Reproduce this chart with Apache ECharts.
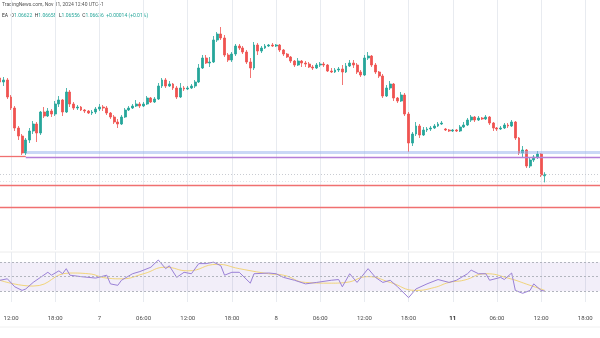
<!DOCTYPE html>
<html><head><meta charset="utf-8">
<script src="https://cdn.jsdelivr.net/npm/echarts@6/dist/echarts.min.js"></script>
<style>html,body{margin:0;padding:0;background:#fff}#c{width:600px;height:338px}</style>
</head><body><div id="c"></div>
<script>
// 30-minute EUR/USD candles: [open, close, low, high]
const ohlc = [
[1.0760,1.0756,1.0754,1.0764],[1.0756,1.0758,1.0752,1.0761],[1.0758,1.0741,1.0739,1.0760],[1.0741,1.0730,1.0728,1.0743],
[1.0730,1.0710,1.0707,1.0732],[1.0710,1.0702,1.0698,1.0712],[1.0702,1.0685,1.0683,1.0704],[1.0685,1.0698,1.0683,1.0700],
[1.0698,1.0707,1.0695,1.0710],[1.0707,1.0714,1.0704,1.0717],[1.0714,1.0705,1.0696,1.0716],[1.0705,1.0726,1.0703,1.0727],
[1.0726,1.0722,1.0720,1.0731],[1.0722,1.0727,1.0721,1.0730],[1.0727,1.0724,1.0721,1.0729],[1.0724,1.0734,1.0722,1.0737],
[1.0734,1.0738,1.0731,1.0742],[1.0738,1.0726,1.0722,1.0739],[1.0726,1.0746,1.0725,1.0750],[1.0746,1.0734,1.0731,1.0748],
[1.0734,1.0730,1.0728,1.0736],[1.0730,1.0731,1.0728,1.0733],[1.0731,1.0728,1.0727,1.0732],[1.0728,1.0727,1.0725,1.0729],
[1.0727,1.0725,1.0724,1.0728],[1.0725,1.0726,1.0723,1.0728],[1.0726,1.0729,1.0724,1.0731],[1.0729,1.0731,1.0727,1.0734],
[1.0731,1.0730,1.0727,1.0733],[1.0730,1.0725,1.0723,1.0732],[1.0725,1.0721,1.0719,1.0726],[1.0721,1.0716,1.0714,1.0723],
[1.0716,1.0714,1.0710,1.0719],[1.0714,1.0721,1.0713,1.0723],[1.0721,1.0728,1.0720,1.0730],[1.0728,1.0730,1.0727,1.0732],
[1.0730,1.0732,1.0729,1.0734],[1.0732,1.0734,1.0731,1.0738],[1.0734,1.0732,1.0730,1.0736],[1.0732,1.0734,1.0731,1.0736],
[1.0734,1.0740,1.0733,1.0742],[1.0740,1.0736,1.0735,1.0741],[1.0736,1.0739,1.0735,1.0741],[1.0739,1.0752,1.0738,1.0755],
[1.0752,1.0758,1.0750,1.0760],[1.0758,1.0752,1.0750,1.0760],[1.0752,1.0754,1.0751,1.0757],[1.0754,1.0750,1.0748,1.0755],
[1.0750,1.0741,1.0739,1.0752],[1.0741,1.0750,1.0740,1.0755],[1.0750,1.0749,1.0747,1.0752],[1.0749,1.0750,1.0748,1.0752],
[1.0750,1.0752,1.0749,1.0754],[1.0752,1.0756,1.0750,1.0758],[1.0756,1.0770,1.0755,1.0774],[1.0770,1.0780,1.0769,1.0783],
[1.0780,1.0775,1.0774,1.0783],[1.0775,1.0776,1.0771,1.0781],[1.0776,1.0798,1.0775,1.0802],[1.0798,1.0804,1.0796,1.0806],
[1.0804,1.0800,1.0798,1.0811],[1.0800,1.0783,1.0781,1.0803],[1.0783,1.0778,1.0776,1.0785],[1.0778,1.0784,1.0776,1.0786],
[1.0784,1.0792,1.0782,1.0794],[1.0792,1.0790,1.0788,1.0794],[1.0790,1.0786,1.0784,1.0792],[1.0786,1.0776,1.0774,1.0788],
[1.0776,1.0770,1.0760,1.0780],[1.0770,1.0793,1.0768,1.0796],[1.0793,1.0787,1.0783,1.0795],[1.0787,1.0790,1.0785,1.0792],
[1.0790,1.0792,1.0789,1.0794],[1.0792,1.0793,1.0791,1.0794],[1.0793,1.0792,1.0791,1.0795],[1.0792,1.0793,1.0791,1.0794],
[1.0793,1.0788,1.0786,1.0794],[1.0788,1.0784,1.0782,1.0789],[1.0784,1.0781,1.0780,1.0785],[1.0781,1.0777,1.0775,1.0782],
[1.0777,1.0773,1.0771,1.0778],[1.0773,1.0777,1.0772,1.0780],[1.0777,1.0775,1.0771,1.0778],[1.0775,1.0774,1.0771,1.0777],
[1.0774,1.0771,1.0770,1.0776],[1.0771,1.0770,1.0768,1.0773],[1.0770,1.0773,1.0769,1.0775],[1.0773,1.0774,1.0771,1.0776],
[1.0774,1.0773,1.0771,1.0776],[1.0773,1.0767,1.0766,1.0774],[1.0767,1.0766,1.0765,1.0770],[1.0766,1.0768,1.0765,1.0770],
[1.0768,1.0769,1.0766,1.0771],[1.0769,1.0766,1.0753,1.0773],[1.0766,1.0772,1.0765,1.0775],[1.0772,1.0775,1.0771,1.0778],
[1.0775,1.0773,1.0770,1.0778],[1.0773,1.0766,1.0764,1.0775],[1.0766,1.0763,1.0761,1.0768],[1.0763,1.0780,1.0762,1.0783],
[1.0780,1.0782,1.0778,1.0786],[1.0782,1.0773,1.0771,1.0783],[1.0773,1.0766,1.0764,1.0775],[1.0766,1.0762,1.0760,1.0767],
[1.0762,1.0742,1.0740,1.0764],[1.0742,1.0750,1.0741,1.0753],[1.0750,1.0754,1.0748,1.0757],[1.0754,1.0740,1.0737,1.0755],
[1.0740,1.0737,1.0735,1.0741],[1.0737,1.0743,1.0736,1.0746],[1.0743,1.0724,1.0722,1.0745],[1.0724,1.0695,1.0686,1.0726],
[1.0695,1.0704,1.0692,1.0706],[1.0704,1.0712,1.0702,1.0716],[1.0712,1.0703,1.0700,1.0714],[1.0703,1.0708,1.0702,1.0711],
[1.0708,1.0709,1.0706,1.0711],[1.0709,1.0710,1.0707,1.0712],[1.0710,1.0712,1.0709,1.0714],[1.0712,1.0714,1.0711,1.0716],
[1.0714,1.0715,1.0713,1.0717],[1.0709,1.0708,1.0707,1.0710],[1.0708,1.0707,1.0706,1.0709],[1.0707,1.0708,1.0706,1.0709],
[1.0708,1.0707,1.0706,1.0709],[1.0707,1.0711,1.0706,1.0713],[1.0711,1.0713,1.0710,1.0716],[1.0713,1.0718,1.0712,1.0720],
[1.0718,1.0721,1.0716,1.0723],[1.0721,1.0718,1.0716,1.0722],[1.0718,1.0720,1.0717,1.0722],[1.0720,1.0719,1.0718,1.0721],
[1.0719,1.0721,1.0718,1.0723],[1.0721,1.0715,1.0713,1.0722],[1.0715,1.0710,1.0707,1.0716],[1.0710,1.0709,1.0707,1.0711],
[1.0709,1.0710,1.0708,1.0712],[1.0710,1.0713,1.0709,1.0715],[1.0713,1.0712,1.0710,1.0715],[1.0712,1.0716,1.0711,1.0718],
[1.0716,1.0700,1.0698,1.0717],[1.0700,1.0685,1.0683,1.0701],[1.0685,1.0688,1.0681,1.0692],[1.0688,1.0672,1.0670,1.0689],
[1.0672,1.0678,1.0670,1.0681],[1.0678,1.0681,1.0676,1.0683],[1.0681,1.0684,1.0679,1.0687],[1.0684,1.0663,1.0661,1.0685],
[1.06622,1.06636,1.06556,1.06658]
];
// RSI (14) read at sample candles: [candle index, value]
const rsiPoints = [[0,45],[2,47],[4,36],[6,31],[7,33],[9,42],[11,49],[13,56],[14,52],[16,58],[17,54],[18,61],[19,52],[22,50],[26,48],[29,52],[30,40],[32,38],[33,45],[36,54],[38,57],[41,63],[43,73],[45,61],[46,65],[48,49],[50,56],[52,54],[54,68],[56,68],[58,70],[60,65],[61,52],[63,56],[65,56],[68,41],[69,54],[73,55],[75,54],[77,49],[80,45],[83,40],[86,42],[90,45],[92,46],[93,36],[95,54],[97,42],[100,61],[102,49],[104,42],[106,45],[108,36],[109,31],[111,21],[113,33],[116,40],[119,46],[122,42],[124,45],[127,54],[128,59],[130,54],[132,54],[133,45],[136,49],[137,46],[139,55],[140,31],[142,27],[144,31],[145,40],[147,31],[148,30]];
// RSI moving average read at sample candles
const rsiMaPoints = [[0,45],[9,37],[19,55],[24,54],[29,48],[33,47],[39,54],[45,63],[51,58],[59,67],[65,61],[73,54],[77,52],[83,42],[90,41],[94,42],[100,50],[106,42],[113,31],[118,35],[122,42],[126,45],[132,54],[138,48],[144,38],[148,31]];
// drawn price levels
const redLeftLevel = 1.0682;
const blueLevel = 1.0686;
const purpleLevel = 1.0681;
const redLevels = [1.0653, 1.0631];
const dottedLevels = [1.0664, 1.0657];
// time axis ticks
const tickIdx = [3,15,27,39,51,63,75,87,99,111,123,135,147,159];
const tickText = ['12:00','18:00','7','06:00','12:00','18:00','8','06:00','12:00','18:00','11','06:00','12:00','18:00'];
const headerLine1 = 'TradingNews.com, Nov 11, 2024 12:40 UTC+1';

// categories: 30-min slots from Nov 6 10:30, skipping the weekend
const categories = [];
(function(){
  let d = 6, h = 10, m = 30;
  for (let i = 0; i < 164; i++) {
    categories.push(d + ' ' + String(h).padStart(2,'0') + ':' + String(m).padStart(2,'0'));
    m += 30; if (m === 60) { m = 0; h++; }
    if (h === 24) { h = 0; d++; }
    if (d === 8 && h === 23 && m === 0) { d = 10; }
  }
})();
const lastIdx = categories.length - 1;

const chart = echarts.init(document.getElementById('c'), null, {renderer:'canvas'});
const showTick = (i) => tickIdx.indexOf(i) >= 0;
const vLine = {show:true, interval: showTick, lineStyle:{color:'#e8ebf0', width:1}};
const green = '#26a69a', red = '#ef5350';
const font = 'Roboto, Arial, sans-serif';
const hLine = (from, to, v, style) => [{coord:[from, v], lineStyle:style}, {coord:[to, v]}];
const redStyle = {color:'#f07070',width:1.3,type:'solid'};

chart.setOption({
  animation:false,
  backgroundColor:'#ffffff',
  grid:[{left:0,right:0,top:0,height:250},{left:0,right:0,top:252,height:50}],
  xAxis:[
    {type:'category',gridIndex:0,data:categories,boundaryGap:false,axisLine:{show:false},axisTick:{show:false},axisLabel:{show:false},splitLine:vLine},
    {type:'category',gridIndex:1,data:categories,boundaryGap:false,axisLine:{show:false},axisTick:{show:false},splitLine:vLine,
      axisLabel:{show:true,interval:showTick,margin:13,fontSize:6,color:'#4a4a4a',fontFamily:font,
        formatter:(v,i)=>{const k=tickIdx.indexOf(i); const t=k>=0?tickText[k]:''; return t==='11'?'{b|'+t+'}':t;},
        rich:{b:{fontWeight:'bold',fontSize:6,color:'#222',fontFamily:font}}}}
  ],
  yAxis:[
    {type:'value',gridIndex:0,min:1.0588,max:1.0838,show:false},
    {type:'value',gridIndex:1,min:15,max:84,show:false}
  ],
  graphic:[
    {type:'text',left:2,top:2,style:{text:headerLine1,fontSize:5,fill:'#555',fontFamily:font}},
    {type:'text',left:2,top:13,style:{
      text:'{k|EA}  {k|O}{v|1.06622}  {k|H}{v|1.06658}  {k|L}{v|1.06556}  {k|C}{v|1.06636}  {v|+0.00014 (+0.01%)}',
      fontSize:5,fontFamily:font,
      rich:{k:{fill:'#333',fontSize:5,fontFamily:font},v:{fill:green,fontSize:5,fontFamily:font}}}},
    {type:'line',shape:{x1:0,y1:252,x2:600,y2:252},style:{stroke:'#ececec',lineWidth:1},silent:true},
    {type:'line',shape:{x1:0,y1:327,x2:600,y2:327},style:{stroke:'#f0f0f0',lineWidth:1},silent:true}
  ],
  series:[
    {type:'candlestick',xAxisIndex:0,yAxisIndex:0,data:ohlc,barWidth:2.4,
      itemStyle:{color:green,color0:red,borderColor:green,borderColor0:red,borderWidth:0.8},
      markLine:{symbol:['none','none'],silent:true,label:{show:false},animation:false,
        data:[
          hLine(0, 7, redLeftLevel, redStyle),
          hLine(7, lastIdx, blueLevel, {color:'rgba(150,178,238,0.5)',width:3,type:'solid'}),
          hLine(7, lastIdx, purpleLevel, {color:'#b47ed8',width:1.3,type:'solid'}),
          hLine(0, lastIdx, redLevels[0], redStyle),
          hLine(0, lastIdx, redLevels[1], redStyle),
          hLine(0, lastIdx, dottedLevels[0], {color:'#c9ccd2',width:1,type:[1,2]}),
          hLine(0, lastIdx, dottedLevels[1], {color:'#e2e4e8',width:1,type:[1,2]})
        ]}},
    {type:'line',xAxisIndex:1,yAxisIndex:1,data:rsiMaPoints,smooth:0.5,showSymbol:false,
      lineStyle:{color:'rgba(240,205,90,0.8)',width:1},z:2},
    {type:'line',xAxisIndex:1,yAxisIndex:1,data:rsiPoints,showSymbol:false,
      lineStyle:{color:'#9a80d6',width:1},z:3,
      markArea:{silent:true,itemStyle:{color:'rgba(126,87,194,0.1)'},data:[[{yAxis:30},{yAxis:70}]]},
      markLine:{symbol:['none','none'],silent:true,label:{show:false},
        lineStyle:{color:'#b2b5be',width:1,type:[2,2]},
        data:[{yAxis:70},{yAxis:50},{yAxis:30}]}}
  ]
});
</script></body></html>
